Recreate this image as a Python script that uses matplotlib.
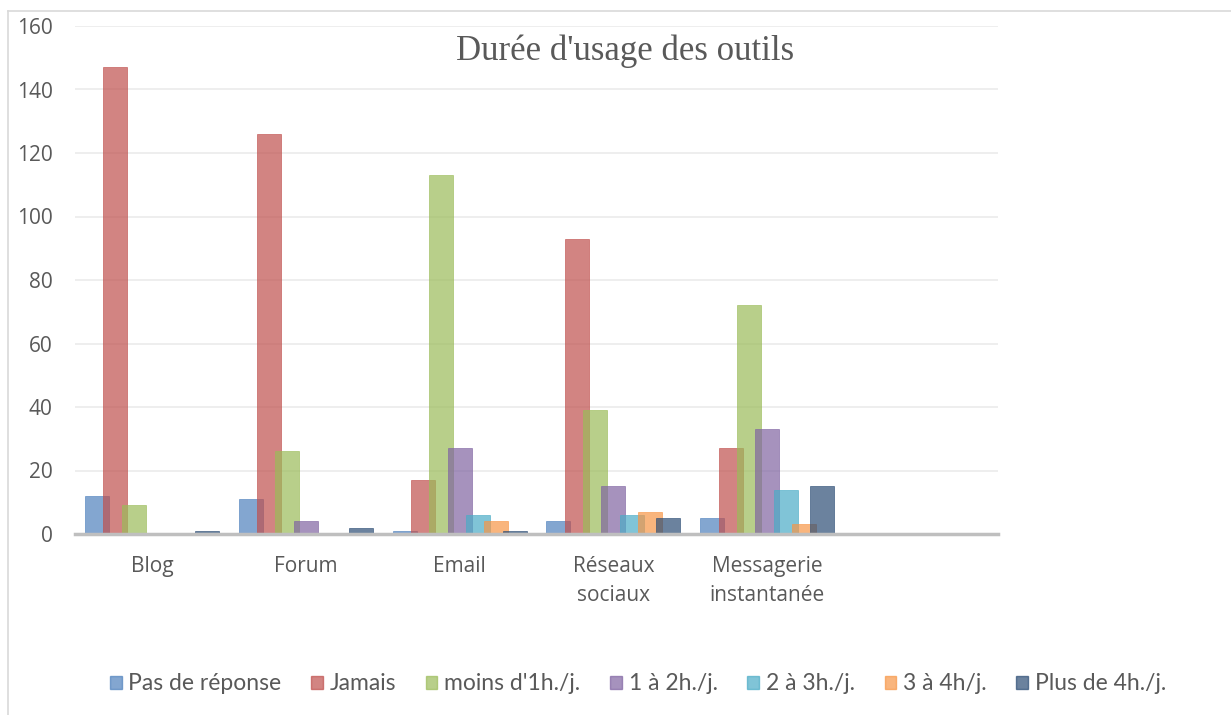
import matplotlib
matplotlib.use("Agg")
import matplotlib.pyplot as plt
from matplotlib.lines import Line2D
import numpy as np

categories = ["Blog", "Forum", "Email", "Réseaux\nsociaux", "Messagerie\ninstantanée", ""]
series_names = ["Pas de réponse", "Jamais", "moins d'1h./j.", "1 à 2h./j.", "2 à 3h./j.", "3 à 4h/j.", "Plus de 4h./j."]
pas_de_reponse = [12, 11, 1, 4, 5, 0]
jamais = [147, 126, 17, 93, 27, 0]
moins_1h = [9, 26, 113, 39, 72, 0]
h1_2 = [0, 4, 27, 15, 33, 0]
h2_3 = [0, 0, 6, 6, 14, 0]
h3_4 = [0, 0, 4, 7, 3, 0]
plus_4h = [1, 2, 1, 5, 15, 0]
series = [pas_de_reponse, jamais, moins_1h, h1_2, h2_3, h3_4, plus_4h]
colors = ["#4F81BD", "#C0504D", "#9BBB59", "#8064A2", "#4BACC6", "#F79646", "#2C4D75"]
yticks = [0, 20, 40, 60, 80, 100, 120, 140, 160]

plt.rcParams['font.family'] = ['Open Sans', 'DejaVu Sans']
fig = plt.figure(figsize=(12.31, 7.15), dpi=100)
ax = fig.add_axes([75/1231, 1-534/715, (998-75)/1231, (534-26)/715])

x = np.arange(len(categories))
width = 0.156
step = 0.119
for i, (vals, c, name) in enumerate(zip(series, colors, series_names)):
    offs = (i - 3) * step
    ax.bar(x + offs, vals, width=width, color=c, alpha=0.7, label=name,
           edgecolor=c, linewidth=0.6, zorder=3)

ax.set_xlim(-0.5, 5.5)
ax.set_ylim(0, 160)
ax.set_yticks(yticks)
ax.set_xticks(x[:5])
ax.set_xticklabels(categories[:5], linespacing=1.5)
ax.tick_params(axis='y', length=0, pad=16, labelsize=15, labelcolor="#595959")
ax.tick_params(axis='x', length=0, pad=16, labelsize=15, labelcolor="#595959")
ax.grid(axis='y', color="#EEEEEE", linewidth=1.4, zorder=0)
ax.set_axisbelow(True)
for s in ["left", "right", "top"]:
    ax.spines[s].set_visible(False)
ax.spines["bottom"].set_color("#BFBFBF")
ax.spines["bottom"].set_linewidth(2.5)
ax.spines["bottom"].set_zorder(4)

fig.text(625/1231, 1-51/715, "Durée d'usage des outils", ha="center", va="center",
         fontsize=25, family=["Liberation Serif", "DejaVu Serif"], color="#595959")

handles = [plt.Rectangle((0, 0), 1, 1, color=c, alpha=0.7) for c in colors]
fig.legend(handles, series_names, loc="center", bbox_to_anchor=(638/1231, 1-684/715),
           ncol=7, frameon=False, handlelength=0.5, handleheight=0.5,
           handletextpad=0.3, columnspacing=1.3, labelcolor="#595959",
           prop={'family': ['Lato', 'DejaVu Sans'], 'size': 16.5})

fig.add_artist(Line2D([8/1231, 8/1231], [0, 1-11/715], transform=fig.transFigure, color="#D9D9D9", linewidth=1.2))
fig.add_artist(Line2D([8/1231, 1], [1-11/715, 1-11/715], transform=fig.transFigure, color="#D9D9D9", linewidth=1.2))

fig.savefig("out.png", dpi=100)
